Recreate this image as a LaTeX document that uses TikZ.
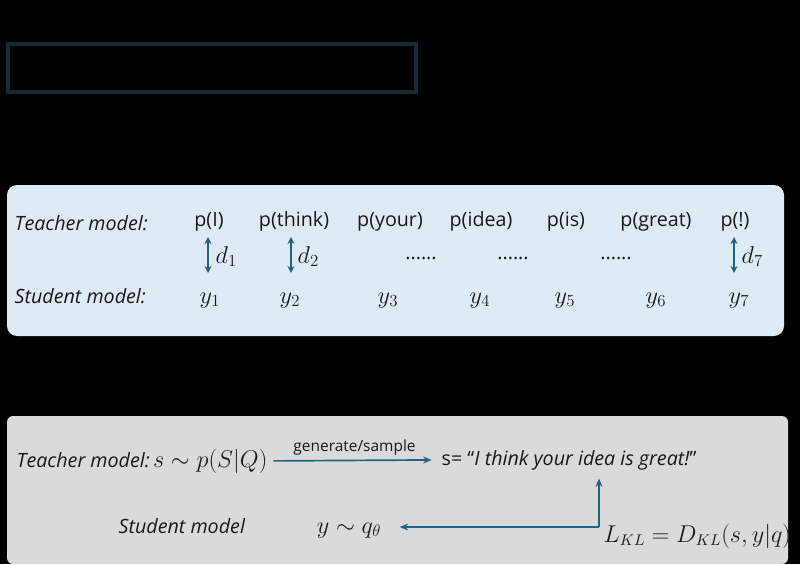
\documentclass[tikz,border=0pt]{standalone}
\usepackage{amsmath}
\usepackage{fontspec}
\setmainfont{Open Sans}
\usetikzlibrary{positioning,arrows.meta}
\definecolor{arrowblue}{RGB}{31,100,130}
\definecolor{panelblue}{RGB}{222,235,247}
\definecolor{panelgray}{RGB}{218,218,218}
\definecolor{boxedge}{RGB}{18,44,56}
\definecolor{ink}{RGB}{25,25,25}
\newcommand{\lbl}[1]{\textit{#1}}
\newcommand{\mth}[1]{{\fontsize{17.5}{19}\selectfont$#1$}}
\newcommand{\edgefont}{\fontsize{11}{13}\selectfont}

\begin{document}
\begin{tikzpicture}[x=0.025cm, y=-0.025cm,
  every node/.style={text=ink, font=\fontsize{14}{16}\selectfont, inner sep=1pt},
  darr/.style={arrowblue, line width=1.3pt, {Stealth[length=5pt,width=5pt]}-{Stealth[length=5pt,width=5pt]}},
  flow/.style={arrowblue, line width=1.2pt, -{Stealth[length=6pt,width=5pt]}}]

  % page and panels
  \fill[black] (0,0) rectangle (800,564);
  \draw[boxedge, line width=2.2pt] (8,44) rectangle (416,92);
  \fill[panelblue, rounded corners=0.25cm] (7,185) rectangle (784,336);
  \fill[panelgray, rounded corners=0.15cm] (7,416) rectangle (788,564);

  % token-level view
  \node[anchor=base west] (teacher) at (13,230) {\lbl{Teacher model:}};
  \node[anchor=base west] (student) at (13,303) {\lbl{Student model:}};

  \node[anchor=base] (pI) at (209,226) {p(I)};
  \node[anchor=base] (pthink) at (294,226) {p(think)};
  \node[anchor=base] (pyour) at (390,226) {p(your)};
  \node[anchor=base] (pidea) at (481,226) {p(idea)};
  \node[anchor=base] (pis) at (566,226) {p(is)};
  \node[anchor=base] (pgreat) at (656,226) {p(great)};
  \node[anchor=base] (pexcl) at (735,226) {p(!)};

  \node[anchor=base] (y1) at (210,303) {\mth{y_1}};
  \node[anchor=base] (y2) at (290,303) {\mth{y_2}};
  \node[anchor=base] (y3) at (388,303) {\mth{y_3}};
  \node[anchor=base] (y4) at (480,303) {\mth{y_4}};
  \node[anchor=base] (y5) at (565,303) {\mth{y_5}};
  \node[anchor=base] (y6) at (656,303) {\mth{y_6}};
  \node[anchor=base] (y7) at (739,303) {\mth{y_7}};

  \node[anchor=base] (dotsA) at (421,259) {......};
  \node[anchor=base] (dotsB) at (513,259) {......};
  \node[anchor=base] (dotsC) at (616,259) {......};

  \coordinate (d1top) at (208,237);
  \coordinate (d1bot) at (208,273);
  \coordinate (d2top) at (291,237);
  \coordinate (d2bot) at (291,273);
  \coordinate (d7top) at (734,237);
  \coordinate (d7bot) at (734,273);
  \draw[darr] (d1top) -- (d1bot);
  \draw[darr] (d2top) -- (d2bot);
  \draw[darr] (d7top) -- (d7bot);
  \node[anchor=base west] (d1) at (214,263) {\mth{d_1}};
  \node[anchor=base west] (d2) at (296,263) {\mth{d_2}};
  \node[anchor=base west] (d7) at (740,263) {\mth{d_7}};

  % sequence-level view
  \node[anchor=base west] (tsample) at (15,467) {\lbl{Teacher model:}\,\mth{s \sim p(S|Q)}};
  \node[anchor=base west] (sent) at (440,465) {s= “\lbl{I think your idea is great!}”};
  \draw[flow, shorten <=3pt, shorten >=6pt] (tsample.east) -- (sent.west)
    node[midway, above=2pt, font=\edgefont] (gen) {generate/sample};

  \node[anchor=base west] (smodel) at (117,533) {\lbl{Student model}};
  \node[anchor=base] (yq) at (349,533) {\mth{y \sim q_\theta}};
  \node[anchor=base west, font=\fontsize{16}{18}\selectfont] (lkl) at (602,542) {$L_{KL} = D_{KL}(s,y|q)$};

  \coordinate (kink) at (599,527);
  \draw[flow, shorten >=5pt] (kink) -- (kink |- sent.south);
  \draw[flow, shorten >=12pt] (kink) -- (kink -| yq.east);
\end{tikzpicture}
\end{document}
